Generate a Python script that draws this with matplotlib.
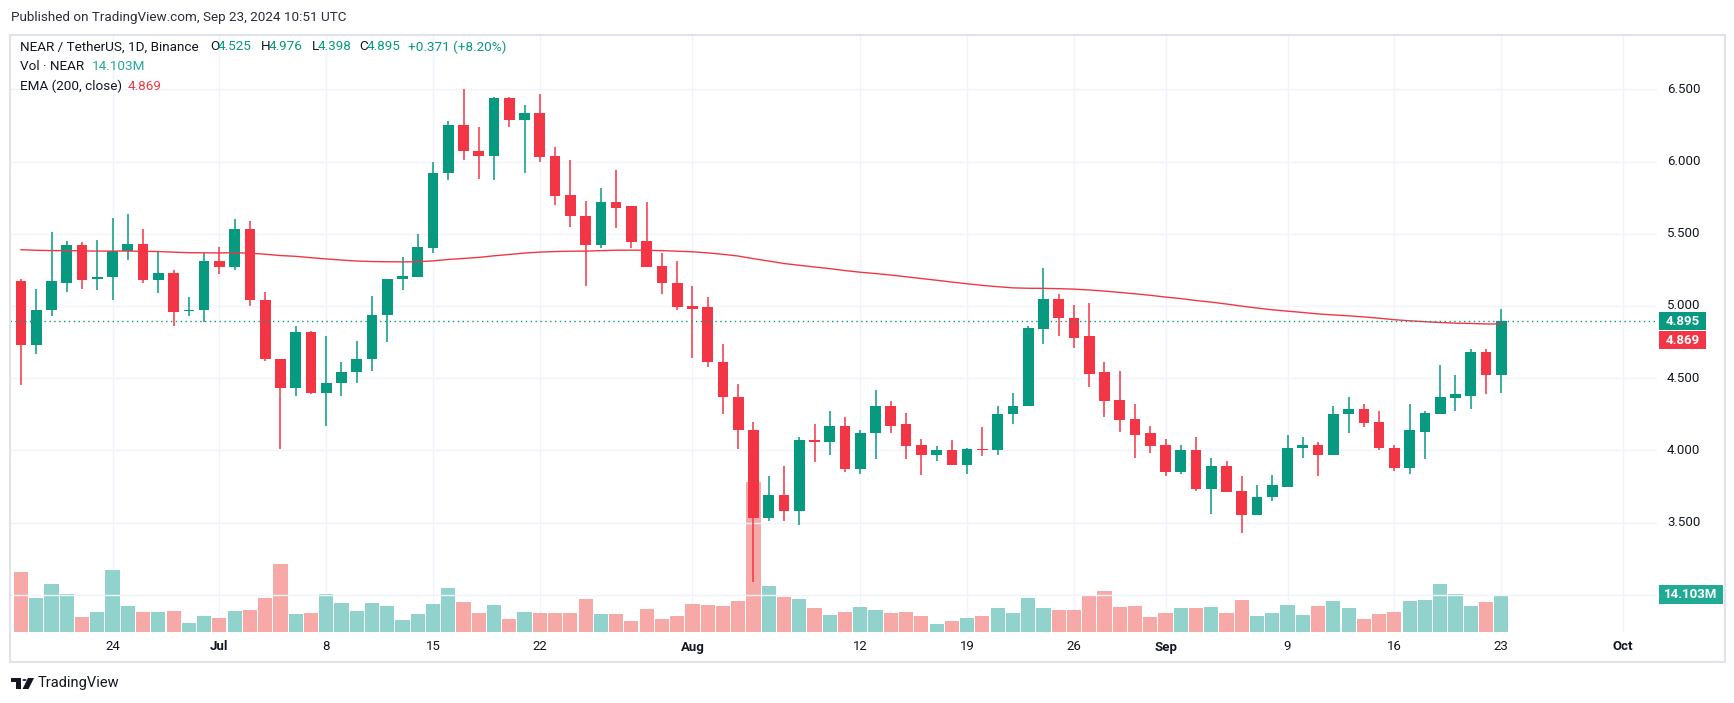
import numpy as np
import pandas as pd
import matplotlib.pyplot as plt
from matplotlib.patches import Rectangle, Circle, Polygon
from matplotlib import transforms

plt.rcParams['font.family'] = ['Roboto', 'DejaVu Sans']

# ---- data (NEAR / USDT, 1D) ----
dates = pd.date_range("2024-06-18", "2024-09-23", freq="D")

opens = [5.17, 4.73, 4.97, 5.16, 5.42, 5.19, 5.20, 5.38, 5.43, 5.18,
         5.23, 4.965, 4.97, 5.31, 5.27, 5.53, 5.04, 4.63, 4.43, 4.82,
         4.40, 4.47, 4.54, 4.63, 4.94, 5.19, 5.20, 5.40, 5.92, 6.25,
         6.07, 6.04, 6.44, 6.29, 6.34, 6.04, 5.77, 5.62, 5.42, 5.72,
         5.69, 5.45, 5.28, 5.16, 5.00, 4.99, 4.61, 4.37, 4.14, 3.53,
         3.69, 3.58, 4.07, 4.06, 4.17, 3.87, 4.12, 4.31, 4.18, 4.04,
         3.97, 4.00, 3.90, 4.01, 4.00, 4.25, 4.31, 4.84, 5.05, 4.92,
         4.79, 4.54, 4.35, 4.22, 4.12, 4.04, 3.85, 4.00, 3.73, 3.89,
         3.72, 3.55, 3.68, 3.75, 4.02, 4.04, 3.97, 4.25, 4.29, 4.20,
         4.02, 3.88, 4.13, 4.25, 4.36, 4.38, 4.68, 4.525]
highs = [5.19, 5.12, 5.51, 5.45, 5.44, 5.46, 5.61, 5.64, 5.53, 5.38,
         5.25, 5.06, 5.37, 5.41, 5.60, 5.59, 5.10, 4.63, 4.86, 4.83,
         4.79, 4.61, 4.76, 5.07, 5.19, 5.34, 5.50, 6.00, 6.28, 6.50,
         6.24, 6.45, 6.45, 6.39, 6.47, 6.10, 6.01, 5.73, 5.82, 5.94,
         5.69, 5.72, 5.37, 5.31, 5.14, 5.06, 4.74, 4.46, 4.20, 3.82,
         3.89, 4.09, 4.18, 4.27, 4.23, 4.14, 4.42, 4.34, 4.26, 4.08,
         4.03, 4.07, 4.02, 4.16, 4.31, 4.40, 4.86, 5.26, 5.08, 5.01,
         5.02, 4.61, 4.55, 4.32, 4.17, 4.08, 4.04, 4.09, 3.95, 3.93,
         3.82, 3.76, 3.83, 4.11, 4.09, 4.06, 4.31, 4.37, 4.32, 4.27,
         4.04, 4.32, 4.27, 4.59, 4.52, 4.70, 4.70, 4.976]
lows = [4.45, 4.67, 4.93, 5.10, 5.12, 5.11, 5.04, 5.32, 5.16, 5.09,
        4.86, 4.93, 4.89, 5.22, 5.25, 5.00, 4.62, 4.01, 4.38, 4.39,
        4.17, 4.38, 4.47, 4.55, 4.75, 5.11, 5.20, 5.37, 5.87, 6.01,
        5.88, 5.87, 6.24, 5.92, 6.00, 5.70, 5.55, 5.14, 5.40, 5.54,
        5.40, 5.27, 5.08, 4.97, 4.64, 4.58, 4.25, 4.01, 3.09, 3.51,
        3.51, 3.48, 3.92, 3.97, 3.85, 3.84, 3.94, 4.12, 3.94, 3.83,
        3.93, 3.90, 3.84, 3.96, 3.97, 4.18, 4.31, 4.74, 4.79, 4.71,
        4.44, 4.23, 4.13, 3.95, 3.98, 3.82, 3.84, 3.72, 3.56, 3.71,
        3.43, 3.55, 3.65, 3.75, 3.95, 3.82, 3.97, 4.12, 4.16, 4.00,
        3.86, 3.84, 3.94, 4.25, 4.27, 4.29, 4.39, 4.398]
closes = [4.73, 4.97, 5.17, 5.42, 5.18, 5.20, 5.38, 5.43, 5.18, 5.23,
          4.96, 4.975, 5.31, 5.27, 5.53, 5.04, 4.63, 4.43, 4.82, 4.40,
          4.47, 4.54, 4.63, 4.94, 5.19, 5.21, 5.41, 5.92, 6.25, 6.07,
          6.04, 6.44, 6.29, 6.34, 6.03, 5.76, 5.62, 5.42, 5.72, 5.68,
          5.44, 5.27, 5.16, 4.99, 4.98, 4.61, 4.37, 4.14, 3.53, 3.69,
          3.58, 4.07, 4.06, 4.17, 3.87, 4.12, 4.31, 4.17, 4.03, 3.97,
          4.00, 3.90, 4.01, 4.00, 4.25, 4.31, 4.85, 5.05, 4.92, 4.78,
          4.53, 4.34, 4.21, 4.11, 4.03, 3.85, 4.00, 3.73, 3.89, 3.71,
          3.55, 3.68, 3.76, 4.02, 4.04, 3.97, 4.25, 4.29, 4.19, 4.02,
          3.88, 4.14, 4.26, 4.37, 4.39, 4.68, 4.525, 4.895]
# volume, millions of NEAR
volumes = [22.9, 12.9, 18.3, 14.5, 5.6, 7.6, 23.7, 9.9, 7.6, 7.6,
           7.9, 3.3, 6.0, 5.3, 7.9, 8.3, 12.9, 26.0, 6.8, 7.2,
           14.5, 11.0, 7.9, 11.0, 9.9, 4.5, 6.8, 10.6, 16.8, 11.4,
           7.2, 10.3, 4.9, 7.6, 7.2, 7.2, 7.2, 12.6, 6.8, 6.8,
           4.1, 8.7, 4.9, 6.0, 10.6, 10.3, 9.9, 11.8, 57.6, 17.6,
           13.3, 12.6, 9.1, 6.4, 7.6, 9.5, 8.3, 7.2, 7.6, 6.0,
           2.9, 4.1, 5.3, 6.0, 9.1, 7.2, 12.9, 9.1, 8.3, 8.3,
           13.7, 15.6, 9.5, 9.9, 5.6, 7.2, 9.1, 9.1, 9.5, 7.2,
           12.2, 6.0, 7.2, 10.3, 6.4, 9.9, 11.8, 9.1, 4.9, 6.8,
           7.6, 11.8, 12.2, 18.3, 14.5, 9.9, 11.4, 14.103]
ema_start = 5.39   # EMA(200) value on the first bar

tick_dates = ["2024-06-24", "2024-07-01", "2024-07-08", "2024-07-15", "2024-07-22",
              "2024-08-01", "2024-08-12", "2024-08-19", "2024-08-26", "2024-09-01",
              "2024-09-09", "2024-09-16", "2024-09-23", "2024-10-01"]
tick_labels = ["24", "Jul", "8", "15", "22", "Aug", "12", "19", "26", "Sep",
               "9", "16", "23", "Oct"]
price_ticks = [3.5, 4.0, 4.5, 5.0, 5.5, 6.0, 6.5]

UP = "#089981"
DOWN = "#f23645"
VOL_UP = "#92d2cc"
VOL_DOWN = "#f7a9a7"
TXT = "#131722"
GRID = "#f0f3fa"

# EMA(200, close)
alpha = 2 / (200 + 1)
ema = [ema_start]
for c in closes[1:]:
    ema.append(ema[-1] + alpha * (c - ema[-1]))

o = np.array(opens)
h = np.array(highs)
l = np.array(lows)
c = np.array(closes)
x = np.arange(len(dates))
up = c >= o
colors = np.where(up, UP, DOWN)
vcolors = np.where(up, VOL_UP, VOL_DOWN)

W, H = 1734, 703
fig = plt.figure(figsize=(W / 100, H / 100), dpi=100)

# pane in pixels
left, top, right, bottom = 10, 36, 1657, 632
ax_vol = fig.add_axes([left / W, 1 - bottom / H, (right - left) / W, (bottom - top) / H])
ax = ax_vol.twinx()

x0, dx = 21, 15.26
ax_vol.set_xlim((left - x0) / dx, (right - x0) / dx)
y_hi = 6.5 + (89.4 - top) / 144.4
y_lo = 6.5 - (bottom - 89.4) / 144.4
ax.set_ylim(y_lo, y_hi)
ax_vol.set_ylim(0, (bottom - top) * 14.103 / 36.7)

for a in (ax, ax_vol):
    for s in a.spines.values():
        s.set_visible(False)
    a.set_xticks([])
    a.set_yticks([])

tick_idx = [(pd.Timestamp(d) - dates[0]).days for d in tick_dates]

# grid
for ti in tick_idx:
    ax_vol.axvline(ti, color=GRID, lw=1, zorder=0)
for p in [3.0] + price_ticks:
    ax.axhline(p, color=GRID, lw=1, zorder=0)

# volume
ax_vol.bar(x, volumes, width=0.93, color=vcolors, linewidth=0, zorder=2)

# candles
ax.vlines(x, l, h, colors=colors, lw=1.1, zorder=3)
body_lo = np.minimum(o, c)
body_h = np.maximum(np.abs(c - o), 0.008)
ax.bar(x, body_h, bottom=body_lo, width=0.7, color=colors, linewidth=0, zorder=4)

# EMA
ax.plot(x, ema, color=DOWN, lw=1.0, zorder=5)

# last price dotted line
ax.axhline(closes[-1], color=UP, lw=1, ls=(0, (1, 2.5)), zorder=5)

# time axis labels
tb = transforms.blended_transform_factory(ax_vol.transData, ax_vol.transAxes)
for ti, lab in zip(tick_idx, tick_labels):
    bold = not lab.isdigit()
    ax_vol.text(ti, -15 / (bottom - top), lab, transform=tb, ha="center", va="center",
                fontsize=9.5, color=TXT, fontweight="bold" if bold else "normal")

# price axis labels
pb = transforms.blended_transform_factory(fig.transFigure, ax.transData)
for p in price_ticks:
    fig.text(1667 / W, p, f"{p:.3f}", transform=pb, ha="left", va="center",
             fontsize=9.5, color=TXT)


def yfig(axis, val):
    return fig.transFigure.inverted().transform(axis.transData.transform((0, val)))[1]


def box(yc, w, text, color):
    bh = 18.5 / H
    fig.patches.append(Rectangle((1659 / W, yc - bh / 2), w / W, bh,
                                 transform=fig.transFigure, facecolor=color,
                                 edgecolor="none", zorder=10))
    fig.text((1659 + w / 2) / W, yc, text, ha="center", va="center", color="white",
             fontsize=9.5, fontweight="bold", zorder=11)


yc_price = yfig(ax, closes[-1])
box(yc_price, 47, f"{closes[-1]:.3f}", UP)
box(yc_price - 19 / H, 47, "4.869", DOWN)
box(yfig(ax_vol, volumes[-1]) + 1 / H, 64, "14.103M", "#22ab94")

# outer frame
fig.patches.append(Rectangle((10 / W, 1 - 662 / H), (1725 - 10) / W, (662 - 35) / H,
                             transform=fig.transFigure, facecolor="none",
                             edgecolor="#e0e3eb", lw=1.5, zorder=1))

# header texts
fig.text(11 / W, 1 - 17 / H, "Published on TradingView.com, Sep 23, 2024 10:51 UTC",
         ha="left", va="center", fontsize=9.7, color="#2a2e39")

line1 = [("NEAR / TetherUS, 1D, Binance", 20, TXT), ("O", 210, TXT), ("4.525", 218, UP),
         ("H", 260.5, TXT), ("4.976", 269, UP), ("L", 312, TXT), ("4.398", 317.5, UP),
         ("C", 359.5, TXT), ("4.895", 366.5, UP), ("+0.371 (+8.20%)", 408.5, UP)]
line2 = [("Vol · NEAR", 20, TXT), ("14.103M", 92, "#22ab94")]
line3 = [("EMA (200, close)", 20, TXT), ("4.869", 128, DOWN)]
for items, yy in ((line1, 47), (line2, 67), (line3, 86)):
    for txt, xx, col in items:
        fig.text(xx / W, 1 - yy / H, txt, ha="left", va="center", fontsize=9.7, color=col)

# TradingView logo
fig.patches.append(Rectangle((11 / W, 1 - 682 / H), 10 / W, 4 / H,
                             transform=fig.transFigure, facecolor=TXT, edgecolor="none"))
fig.patches.append(Rectangle((16 / W, 1 - 689 / H), 5 / W, 11 / H,
                             transform=fig.transFigure, facecolor=TXT, edgecolor="none"))
fig.patches.append(Circle((24.5 / W, 1 - 680 / H), 2.2 / W, transform=fig.transFigure,
                          facecolor=TXT, edgecolor="none"))
fig.patches.append(Polygon([(28 / W, 1 - 678 / H), (34 / W, 1 - 678 / H),
                            (28.5 / W, 1 - 689 / H), (22.5 / W, 1 - 689 / H)],
                           closed=True, transform=fig.transFigure,
                           facecolor=TXT, edgecolor="none"))
fig.text(38 / W, 1 - 683 / H, "TradingView", ha="left", va="center",
         fontsize=10.5, color=TXT)

fig.savefig("out.png", dpi=100)
